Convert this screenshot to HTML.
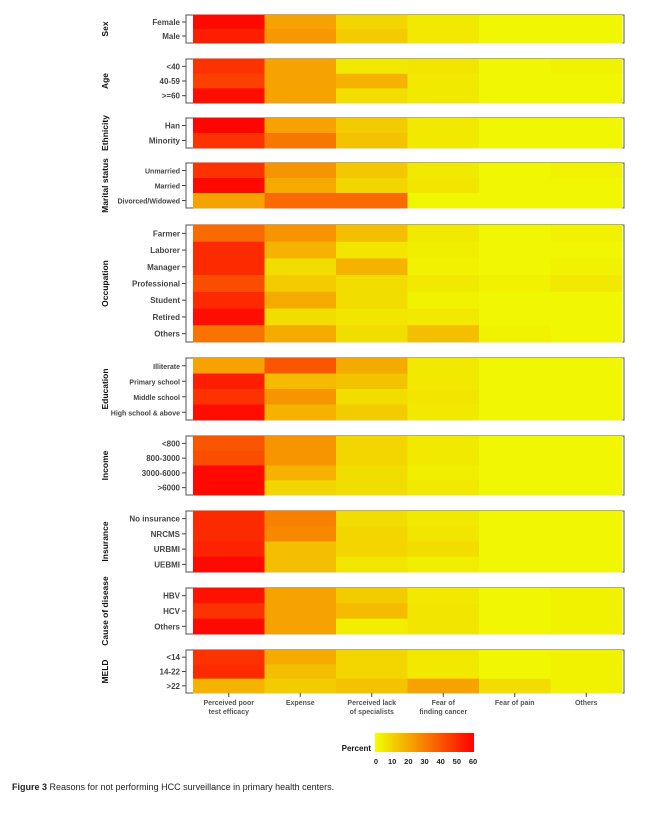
<!DOCTYPE html>
<html><head><meta charset="utf-8">
<style>
body{margin:0;background:#fff;width:655px;height:817px;overflow:hidden;font-family:"Liberation Sans",sans-serif}
#cap{position:absolute;left:12px;top:782px;font-size:9px;color:#222}
</style></head><body>
<svg id="chart" width="655" height="817" style="position:absolute;left:0;top:0">
<defs><linearGradient id="lg" x1="0" x2="1" y1="0" y2="0"><stop offset="0" stop-color="rgb(240,255,0)"/><stop offset="1" stop-color="rgb(255,0,0)"/></linearGradient></defs>
</svg>
<div id="cap"><b>Figure 3</b> Reasons for not performing HCC surveillance in primary health centers.</div>
<script>
const reasons=["Perceived poor|test efficacy","Expense","Perceived lack|of specialists","Fear of|finding cancer","Fear of pain","Others"];
const groups=["Sex","Age","Ethnicity","Marital status","Occupation","Education","Income","Insurance","Cause of disease","MELD"];
const rowLabels=[["Female","Male"],["<40","40-59",">=60"],["Han","Minority"],["Unmarried","Married","Divorced/Widowed"],["Farmer","Laborer","Manager","Professional","Student","Retired","Others"],["Illiterate","Primary school","Middle school","High school & above"],["<800","800-3000","3000-6000",">6000"],["No insurance","NRCMS","URBMI","UEBMI"],["HBV","HCV","Others"],["<14","14-22",">22"]];
const values=[
[[58,22,10,5,2,2],[53,24,12,5,2,2]],
[[48,22,5,6,2,3],[45,22,18,5,2,2],[57,22,8,5,2,2]],
[[59,22,12,5,2,2],[48,32,14,5,2,2]],
[[48,25,13,5,2,3],[58,20,10,6,2,2],[22,35,35,2,2,2]],
[[35,25,15,5,2,3],[50,18,6,4,2,2],[50,8,18,3,2,3],[42,12,8,5,3,5],[50,20,8,3,2,2],[57,8,6,5,2,2],[33,20,8,15,3,2]],
[[22,40,20,5,2,2],[53,16,14,5,2,2],[48,25,8,6,2,2],[57,18,12,5,2,2]],
[[40,25,10,5,2,2],[42,25,10,5,2,2],[58,18,8,4,2,2],[58,10,8,5,2,2]],
[[50,30,8,5,2,2],[50,28,10,6,2,2],[52,15,10,8,2,2],[58,15,6,4,2,2]],
[[56,22,12,5,2,3],[48,22,16,6,2,3],[58,22,4,6,2,3]],
[[48,20,10,5,2,3],[50,15,10,5,2,3],[18,12,14,22,8,3]]];
const legendTicks=[0,10,20,30,40,50,60];
const panelY=[[15,43],[59,103],[118,148],[163,208],[225,342],[358,420],[436,495],[511,572],[588,634],[650,693]];
const svg=document.getElementById('chart');const NS="http://www.w3.org/2000/svg";
function mk(t,a,p){const e=document.createElementNS(NS,t);for(const k in a)e.setAttribute(k,a[k]);(p||svg).appendChild(e);return e;}
const x0=193,x1=622,cw=(x1-x0)/6;
const xs=i=>x0+i*cw;
function col(v){const t=Math.max(0,Math.min(1,v/60));return `rgb(${Math.round(240+15*t)},${Math.round(255*(1-t))},0)`;}
groups.forEach((g,gi)=>{
 const [ya,yb]=panelY[gi];const n=rowLabels[gi].length;const rh=(yb-ya)/n;
 const pb=mk('rect',{x:186,y:ya,width:x1-186+2,height:yb-ya,fill:'#fff',stroke:'#555','stroke-width':1});
 
 
 rowLabels[gi].forEach((r,ri)=>{
  const y=ya+ri*rh;
  values[gi][ri].forEach((v,ci)=>{
   const c=mk('rect',{x:xs(ci),y:y,width:cw+0.5,height:rh+0.5,fill:col(v)});
   
   
  });
  const t=mk('text',{x:180,y:y+rh/2+3,'text-anchor':'end','font-size':(gi==3||gi==5)?7:8,'font-weight':'bold',fill:'#444'});
  t.textContent=r;
  
  
  mk('line',{x1:182,x2:186,y1:y+rh/2,y2:y+rh/2,stroke:'#444'});
 });
 mk('line',{x1:186,x2:186,y1:ya,y2:yb,stroke:'#555'});
 const gl=mk('text',{x:0,y:0,transform:`translate(108,${(ya+yb)/2}) rotate(-90)`,'text-anchor':'middle','font-size':8.5,'font-weight':'bold',fill:'#111'});
 gl.textContent=g;
 
 
});
reasons.forEach((r,i)=>{
 const cx=xs(i)+cw/2;
 mk('line',{x1:cx,x2:cx,y1:693,y2:697,stroke:'#444'});
 r.split('|').forEach((l,li)=>{
  const t=mk('text',{x:cx,y:705+li*9,'text-anchor':'middle','font-size':7,'font-weight':'bold',fill:'#555'});
  t.textContent=l;
  
  
 });
});
const lb=mk('rect',{x:375,y:733,width:99,height:19,fill:'url(#lg)'});


const lt=mk('text',{x:371,y:751,'text-anchor':'end','font-size':8,'font-weight':'bold',fill:'#111'});lt.textContent='Percent';


legendTicks.forEach(v=>{const x=376+v/60*97;const t=mk('text',{x:x,y:764,'text-anchor':'middle','font-size':7.5,'font-weight':'bold',fill:'#222'});t.textContent=v;
 
 });
</script>
</body></html>
